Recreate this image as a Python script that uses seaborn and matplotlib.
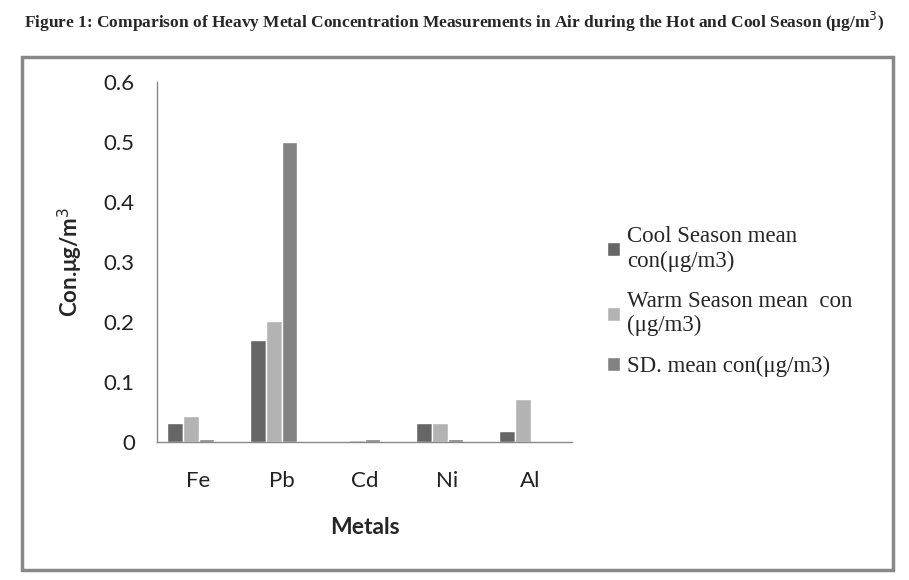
import matplotlib
matplotlib.use("Agg")
import matplotlib.pyplot as plt
import seaborn as sns
import pandas as pd
import numpy as np
from matplotlib.patches import Rectangle

metals = ["Fe", "Pb", "Cd", "Ni", "Al"]
cool = [0.032, 0.170, 0.002, 0.032, 0.018]
warm = [0.044, 0.202, 0.003, 0.032, 0.072]
sd = [0.005, 0.500, 0.005, 0.005, 0.0]
series_names = ["Cool Season mean\ncon(μg/m3)", "Warm Season mean  con\n(μg/m3)", "SD. mean con(μg/m3)"]
yticks = [0, 0.1, 0.2, 0.3, 0.4, 0.5, 0.6]
ytick_labels = ["0", "0.1", "0.2", "0.3", "0.4", "0.5", "0.6"]

sns.set_theme(style="white")
plt.rcParams['font.family'] = ['Lato', 'DejaVu Sans']

rows = []
for name, vals in zip(series_names, [cool, warm, sd]):
    for m, v in zip(metals, vals):
        rows.append({"Metal": m, "Series": name, "Value": v})
# empty placeholder series (as in the original spreadsheet layout)
for m in metals:
    rows.append({"Metal": m, "Series": "_empty", "Value": np.nan})
df = pd.DataFrame(rows)

fig = plt.figure(figsize=(9.09, 5.8), dpi=100)
ax = fig.add_axes([157/909, 1-442/580, (572-157)/909, (442-82)/580])

palette = {series_names[0]: "#666666", series_names[1]: "#b3b3b3",
           series_names[2]: "#828282", "_empty": "#ffffff"}
sns.barplot(data=df, x="Metal", y="Value", hue="Series",
            hue_order=series_names + ["_empty"], order=metals,
            palette=palette, width=0.75, saturation=1, ax=ax,
            errorbar=None, legend=True)

ax.set_ylim(0, 0.6)
ax.set_yticks(yticks)
ax.set_yticklabels(ytick_labels, fontsize=16, color="#222222")
ax.tick_params(axis="y", length=0, pad=16)
ax.tick_params(axis="x", length=0, pad=21, labelsize=16, labelcolor="#222222")
for s in ["top", "right"]:
    ax.spines[s].set_visible(False)
for s in ["left", "bottom"]:
    ax.spines[s].set_color("#888888")
    ax.spines[s].set_linewidth(1.0)

ax.set_xlabel("Metals", fontsize=16.5, fontweight="bold")
ax.set_ylabel("Con.μg/m$^3$", fontsize=16, fontweight="bold")
ax.yaxis.set_label_coords((70-157)/415, 0.5)
ax.xaxis.set_label_coords(0.5, -(527-442)/360)
ax.xaxis.label.set_va("center")
ax.yaxis.label.set_va("center")

handles, labels = ax.get_legend_handles_labels()
hl = [(h, l) for h, l in zip(handles, labels) if l != "_empty"]
ax.legend([h for h, _ in hl], [l for _, l in hl], loc="upper left",
          bbox_to_anchor=(598/909, 1-217/580), bbox_transform=fig.transFigure,
          frameon=False, prop={"family": "Liberation Serif", "size": 16.5},
          handlelength=0.55, handleheight=0.55, handletextpad=0.3,
          labelspacing=0.85, borderaxespad=0)

# outer frame
fig.patches.append(Rectangle((22/909, 1-570/580), (893-22)/909, (570-57)/580,
                             transform=fig.transFigure, fill=False,
                             edgecolor="#888888", linewidth=2.5))

fig.text(0.5, 1-22/580,
         "Figure 1: Comparison of Heavy Metal Concentration Measurements in Air during the Hot and Cool Season (μg/m$^3$)",
         ha="center", va="center", fontsize=12.5, fontweight="bold",
         family="Liberation Serif")

fig.savefig("out.png", dpi=100)
